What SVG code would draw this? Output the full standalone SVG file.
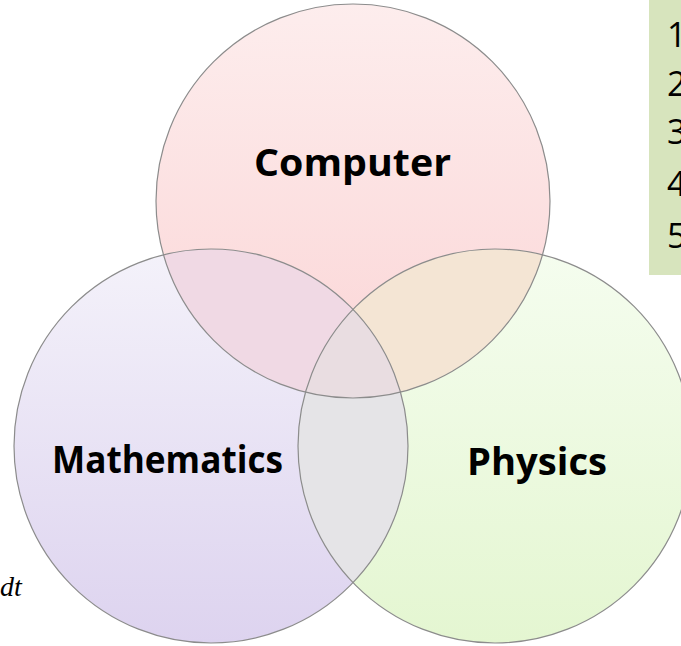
<svg xmlns="http://www.w3.org/2000/svg" width="681" height="646" viewBox="0 0 681 646">
<style>
  .ring { fill: none; stroke: #8c8c8c; stroke-width: 1.2; }
  .lbl { font-family: "Open Sans", "Liberation Sans", sans-serif; font-weight: bold; font-size: 38px; fill: #000; }
  .num { font-family: "Open Sans", "Liberation Sans", sans-serif; font-size: 34px; fill: #000; }
</style>
<defs>
  <linearGradient id="gC" x1="0" y1="0" x2="0" y2="1">
    <stop offset="0" stop-color="#fdeded"/>
    <stop offset="1" stop-color="#fbd5d6"/>
  </linearGradient>
  <linearGradient id="gM" x1="0" y1="0" x2="0" y2="1">
    <stop offset="0" stop-color="#f4f2fa"/>
    <stop offset="1" stop-color="#ddd3ef"/>
  </linearGradient>
  <linearGradient id="gP" x1="0" y1="0" x2="0" y2="1">
    <stop offset="0" stop-color="#f5fdef"/>
    <stop offset="1" stop-color="#e4f6d1"/>
  </linearGradient>
  <clipPath id="cpC"><circle cx="353" cy="201" r="197"/></clipPath>
  <clipPath id="cpM"><circle cx="211" cy="446" r="197"/></clipPath>
  <clipPath id="cpP"><circle cx="495" cy="446" r="197"/></clipPath>
</defs>

<rect x="649" y="0" width="40" height="275" fill="#d7e4bd"/>
<g id="legend" class="num">
  <text x="667" y="47">1</text>
  <text x="667" y="96">2</text>
  <text x="667" y="144">3</text>
  <text x="667" y="196">4</text>
  <text x="667" y="248">5</text>
</g>

<text x="0" y="596" font-family="Liberation Serif, serif" font-style="italic" font-size="28" fill="#000">dt</text>

<g id="fills">
  <circle cx="353" cy="201" r="197" fill="url(#gC)"/>
  <circle cx="211" cy="446" r="197" fill="url(#gM)"/>
  <circle cx="495" cy="446" r="197" fill="url(#gP)"/>
  <circle cx="211" cy="446" r="197" fill="#f0d9e4" clip-path="url(#cpC)"/>
  <circle cx="495" cy="446" r="197" fill="#f4e5d4" clip-path="url(#cpC)"/>
  <circle cx="495" cy="446" r="197" fill="#e5e4e7" clip-path="url(#cpM)"/>
  <g clip-path="url(#cpC)">
    <circle cx="495" cy="446" r="197" fill="#e9dde1" clip-path="url(#cpM)"/>
  </g>
</g>

<g id="connectors"></g>

<g id="computer">
  <circle class="ring" cx="353" cy="201" r="197"/>
  <text class="lbl" x="254" y="176" textLength="197" lengthAdjust="spacingAndGlyphs">Computer</text>
</g>
<g id="mathematics">
  <circle class="ring" cx="211" cy="446" r="197"/>
  <text class="lbl" x="52" y="473" textLength="231" lengthAdjust="spacingAndGlyphs">Mathematics</text>
</g>
<g id="physics">
  <circle class="ring" cx="495" cy="446" r="197"/>
  <text class="lbl" x="467" y="475" textLength="140" lengthAdjust="spacingAndGlyphs">Physics</text>
</g>
</svg>
